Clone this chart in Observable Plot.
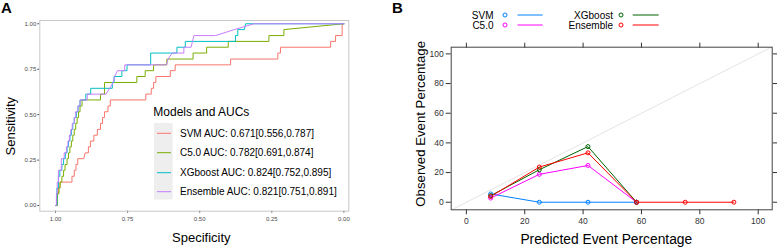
<!DOCTYPE html>
<html><head><meta charset="utf-8">
<script src="https://cdn.jsdelivr.net/npm/d3@7"></script>
<script src="https://cdn.jsdelivr.net/npm/@observablehq/plot@0.6"></script>
<style>
body{margin:0;background:#fff;font-family:"Liberation Sans",Arial,sans-serif;}
#wrap{position:relative;width:777px;height:248px;overflow:hidden;background:#fff;}
.pane{position:absolute;top:0;}
#overlay{position:absolute;left:0;top:0;pointer-events:none;}
</style></head><body><div id="wrap"><div id="pa" class="pane" style="left:0;width:380px"></div><div id="pb" class="pane" style="left:380px;width:397px"></div></div>
<script>
// ---------- Panel A: ROC curves ----------
const rocModels = ["SVM", "C5.0", "XGboost", "Ensemble"];
const rocColors = ["#F8766D", "#7CAE00", "#00BFC4", "#C77CFF"];
const aucLabels = [
  "SVM AUC: 0.671[0.556,0.787]",
  "C5.0 AUC: 0.782[0.691,0.874]",
  "XGboost AUC: 0.824[0.752,0.895]",
  "Ensemble AUC: 0.821[0.751,0.891]"
];
const rocTicks = [0, 0.25, 0.5, 0.75, 1];

const svmSpec = [1,0.995,0.995,0.99,0.99,0.985,0.985,0.943,0.943,0.935,0.935,0.929,0.929,0.923,0.923,0.902,0.897,0.886,0.886,0.879,0.879,0.867,0.867,0.855,0.855,0.844,0.844,0.837,0.837,0.83,0.83,0.818,0.818,0.81,0.81,0.687,0.687,0.668,0.668,0.66,0.66,0.652,0.652,0.602,0.602,0.585,0.585,0.393,0.393,0.229,0.229,0.22,0.22,0.046,0.046,0.029,0.029,0.006,0.006,0];
const svmSens = [0,0,0.065,0.065,0.097,0.097,0.129,0.129,0.161,0.161,0.194,0.194,0.226,0.226,0.258,0.258,0.29,0.29,0.323,0.323,0.355,0.355,0.387,0.387,0.419,0.419,0.452,0.452,0.484,0.484,0.516,0.516,0.548,0.548,0.581,0.581,0.613,0.613,0.645,0.645,0.677,0.677,0.71,0.71,0.742,0.742,0.774,0.774,0.806,0.806,0.839,0.839,0.871,0.871,0.903,0.903,0.935,0.935,1,1];

const c50Spec = [1,0.993,0.993,0.988,0.988,0.984,0.984,0.978,0.978,0.972,0.972,0.967,0.967,0.96,0.96,0.955,0.955,0.95,0.95,0.945,0.945,0.94,0.94,0.935,0.935,0.93,0.93,0.925,0.925,0.92,0.92,0.915,0.915,0.908,0.908,0.844,0.844,0.83,0.83,0.718,0.718,0.689,0.689,0.66,0.66,0.614,0.614,0.523,0.523,0.476,0.476,0.401,0.401,0.26,0.26,0.208,0.208,0];
const c50Sens = [0,0,0.065,0.065,0.097,0.097,0.129,0.129,0.161,0.161,0.194,0.194,0.226,0.226,0.258,0.258,0.29,0.29,0.323,0.323,0.355,0.355,0.387,0.387,0.419,0.419,0.452,0.452,0.484,0.484,0.516,0.516,0.548,0.548,0.581,0.581,0.613,0.613,0.677,0.677,0.71,0.71,0.742,0.742,0.774,0.774,0.806,0.806,0.839,0.839,0.871,0.871,0.903,0.903,0.935,0.935,0.968,1];

const xgbSpec = [1,0.995,0.995,0.99,0.99,0.985,0.985,0.978,0.978,0.972,0.972,0.966,0.966,0.96,0.96,0.955,0.955,0.95,0.95,0.945,0.945,0.94,0.94,0.935,0.935,0.928,0.928,0.922,0.922,0.915,0.915,0.895,0.895,0.878,0.878,0.803,0.803,0.797,0.797,0.77,0.77,0.752,0.752,0.67,0.67,0.579,0.579,0.55,0.55,0.376,0.376,0.368,0.368,0.345,0.341,0];
const xgbSens = [0,0,0.097,0.097,0.161,0.161,0.194,0.194,0.226,0.226,0.258,0.258,0.29,0.29,0.323,0.323,0.355,0.355,0.387,0.387,0.419,0.419,0.452,0.452,0.484,0.484,0.516,0.516,0.548,0.548,0.581,0.581,0.613,0.613,0.645,0.645,0.677,0.677,0.71,0.71,0.742,0.742,0.774,0.774,0.839,0.839,0.871,0.871,0.903,0.903,0.935,0.935,0.968,0.968,1,1];

const ensSpec = [1,0.997,0.997,0.994,0.994,0.99,0.99,0.98,0.98,0.97,0.97,0.962,0.962,0.957,0.957,0.952,0.952,0.947,0.947,0.942,0.942,0.935,0.935,0.93,0.93,0.922,0.922,0.915,0.915,0.89,0.89,0.825,0.812,0.8,0.795,0.785,0.76,0.76,0.615,0.61,0.595,0.555,0.555,0.53,0.525,0.52,0.445,0.38,0.312,0];
const ensSens = [0,0,0.065,0.065,0.129,0.129,0.194,0.194,0.258,0.258,0.29,0.29,0.323,0.323,0.355,0.355,0.387,0.387,0.419,0.419,0.452,0.452,0.484,0.484,0.516,0.516,0.548,0.548,0.581,0.581,0.613,0.613,0.645,0.677,0.71,0.742,0.742,0.774,0.774,0.806,0.839,0.839,0.871,0.871,0.903,0.935,0.935,0.968,1,1];

// ---------- Panel B: calibration ----------
const calModels = ["SVM", "C5.0", "XGboost", "Ensemble"];
const calColors = ["#0080ff", "#ff00ff", "#006400", "#ff0000"];
const binMid = [8.33, 25, 41.67, 58.33, 75, 91.67];
const svmObs = [5.6, 0, 0, 0, null, null];
const c50Obs = [2.8, 18.8, 24.8, 0, null, null];
const xgbObs = [4.4, 21.9, 37.5, 0, null, null];
const ensObs = [3.9, 23.7, 33.3, 0, 0, 0];
const pctTicks = [0, 20, 40, 60, 80, 100];
const diagRef = [-10, 110];

// ---------- build tables ----------
const rocSpec = [svmSpec, c50Spec, xgbSpec, ensSpec];
const rocSens = [svmSens, c50Sens, xgbSens, ensSens];
const rocRows = [];
rocModels.forEach((m, i) => rocSpec[i].forEach((s, j) => rocRows.push({model: m, spec: s, sens: rocSens[i][j]})));

const calObs = [svmObs, c50Obs, xgbObs, ensObs];
const calRows = [];
calModels.forEach((m, i) => calObs[i].forEach((v, j) => { if (v != null) calRows.push({model: m, pred: binMid[j], obs: v}); }));

const FONT = "'Liberation Sans', Arial, sans-serif";

const plotA = Plot.plot({
  width: 380, height: 248,
  marginLeft: 39.3, marginRight: 31.7, marginTop: 20, marginBottom: 37.3,
  style: {fontFamily: FONT, background: "white", color: "black"},
  x: {domain: [1.0545, -0.017]},
  y: {domain: [-0.031, 1.018]},
  color: {domain: rocModels, range: rocColors},
  marks: [
    Plot.axisX({ticks: rocTicks, tickFormat: d3.format(".2f"), tickSize: 2, tickPadding: 3.5, fontSize: 6, color: "#4d4d4d", label: null}),
    Plot.axisY({ticks: rocTicks, tickFormat: d3.format(".2f"), tickSize: 2, tickPadding: 1.5, fontSize: 6, color: "#4d4d4d", label: null}),
    Plot.line(rocRows, {x: "spec", y: "sens", z: "model", stroke: "model", strokeWidth: 1}),
    Plot.frame({stroke: "#c8c8c8", strokeWidth: 1}),
    Plot.text(["Sensitivity"], {frameAnchor: "left", text: d => d, rotate: -90, textAnchor: "middle", dx: -29.3, dy: 10.3, fontSize: 13, fill: "black"}),
    Plot.text(["Specificity"], {frameAnchor: "bottom", text: d => d, textAnchor: "middle", dx: 7, dy: 26.6, fontSize: 13, fill: "black", lineAnchor: "middle"})
  ]
});
document.getElementById("pa").appendChild(plotA);

const plotB = Plot.plot({
  width: 397, height: 248,
  marginLeft: 70.7, marginRight: 5.3, marginTop: 46.7, marginBottom: 38.7,
  style: {fontFamily: FONT, background: "white", color: "black"},
  x: {domain: [-5.2, 104.8]},
  y: {domain: [-5.1, 104.5]},
  color: {domain: calModels, range: calColors},
  marks: [
    Plot.line(diagRef, {x: d => d, y: d => d, stroke: "#e4e4e4", strokeWidth: 1, clip: true}),
    Plot.axisX({anchor: "bottom", ticks: pctTicks, tickSize: 5, tickPadding: 3, fontSize: 8.5, color: "#333", label: null}),
    Plot.axisX({anchor: "top", ticks: pctTicks, tickSize: 5, tickFormat: () => "", color: "#333", label: null}),
    Plot.axisY({anchor: "left", ticks: pctTicks, tickSize: 5, tickPadding: 2.5, fontSize: 8.5, color: "#333", label: null}),
    Plot.axisY({anchor: "right", ticks: pctTicks, tickSize: 5, tickFormat: () => "", color: "#333", label: null}),
    Plot.line(calRows, {x: "pred", y: "obs", z: "model", stroke: "model", strokeWidth: 1}),
    Plot.dot(calRows, {x: "pred", y: "obs", stroke: "model", r: 2, strokeWidth: 1}),
    Plot.frame({stroke: "#444", strokeWidth: 1}),
    Plot.text(["Observed Event Percentage"], {frameAnchor: "left", text: d => d, rotate: -90, textAnchor: "middle", dx: -30.7, dy: -4.7, fontSize: 13.2, fill: "black"}),
    Plot.text(["Predicted Event Percentage"], {frameAnchor: "bottom", text: d => d, textAnchor: "middle", dx: -5.4, dy: 30, fontSize: 13.8, fill: "black", lineAnchor: "middle"})
  ]
});
document.getElementById("pb").appendChild(plotB);

// ---------- overlay: panel letters and legends ----------
const ov = d3.select("#wrap").append("svg").attr("id", "overlay")
  .attr("width", 777).attr("height", 248).style("font-family", FONT);

ov.append("text").attr("x", 1).attr("y", 13).attr("font-size", 15).attr("font-weight", "bold").text("A");
ov.append("text").attr("x", 392).attr("y", 13).attr("font-size", 15).attr("font-weight", "bold").text("B");

// Legend A
const legA = ov.append("g");
legA.append("text").attr("x", 153.3).attr("y", 112).attr("dy", "0.35em").attr("font-size", 12).text("Models and AUCs");
legA.append("rect").attr("x", 154).attr("y", 123).attr("width", 18.7).attr("height", 76.5).attr("fill", "#eeeeee");
const rowYA = [133.3, 152.7, 172.7, 191.7];
rocModels.forEach((m, i) => {
  legA.append("line").attr("x1", 157).attr("x2", 171).attr("y1", rowYA[i]).attr("y2", rowYA[i])
    .attr("stroke", rocColors[i]).attr("stroke-width", 1);
  legA.append("text").attr("x", 180).attr("y", rowYA[i]).attr("dy", "0.35em").attr("font-size", 10).text(aucLabels[i]);
});

// Legend B
const legB = ov.append("g");
const colB = [{tx: 493.5, cx: 505, l1: 517.5, l2: 542.7}, {tx: 613, cx: 621, l1: 632.7, l2: 658.7}];
const rowYB = [15, 25];
calModels.forEach((m, i) => {
  const c = colB[Math.floor(i / 2)], y = rowYB[i % 2];
  legB.append("text").attr("x", c.tx).attr("y", y).attr("dy", "0.35em").attr("text-anchor", "end").attr("font-size", 10).text(m);
  legB.append("circle").attr("cx", c.cx).attr("cy", y).attr("r", 2).attr("fill", "none").attr("stroke", calColors[i]).attr("stroke-width", 1);
  legB.append("line").attr("x1", c.l1).attr("x2", c.l2).attr("y1", y).attr("y2", y).attr("stroke", calColors[i]).attr("stroke-width", 1);
});
</script></body></html>
